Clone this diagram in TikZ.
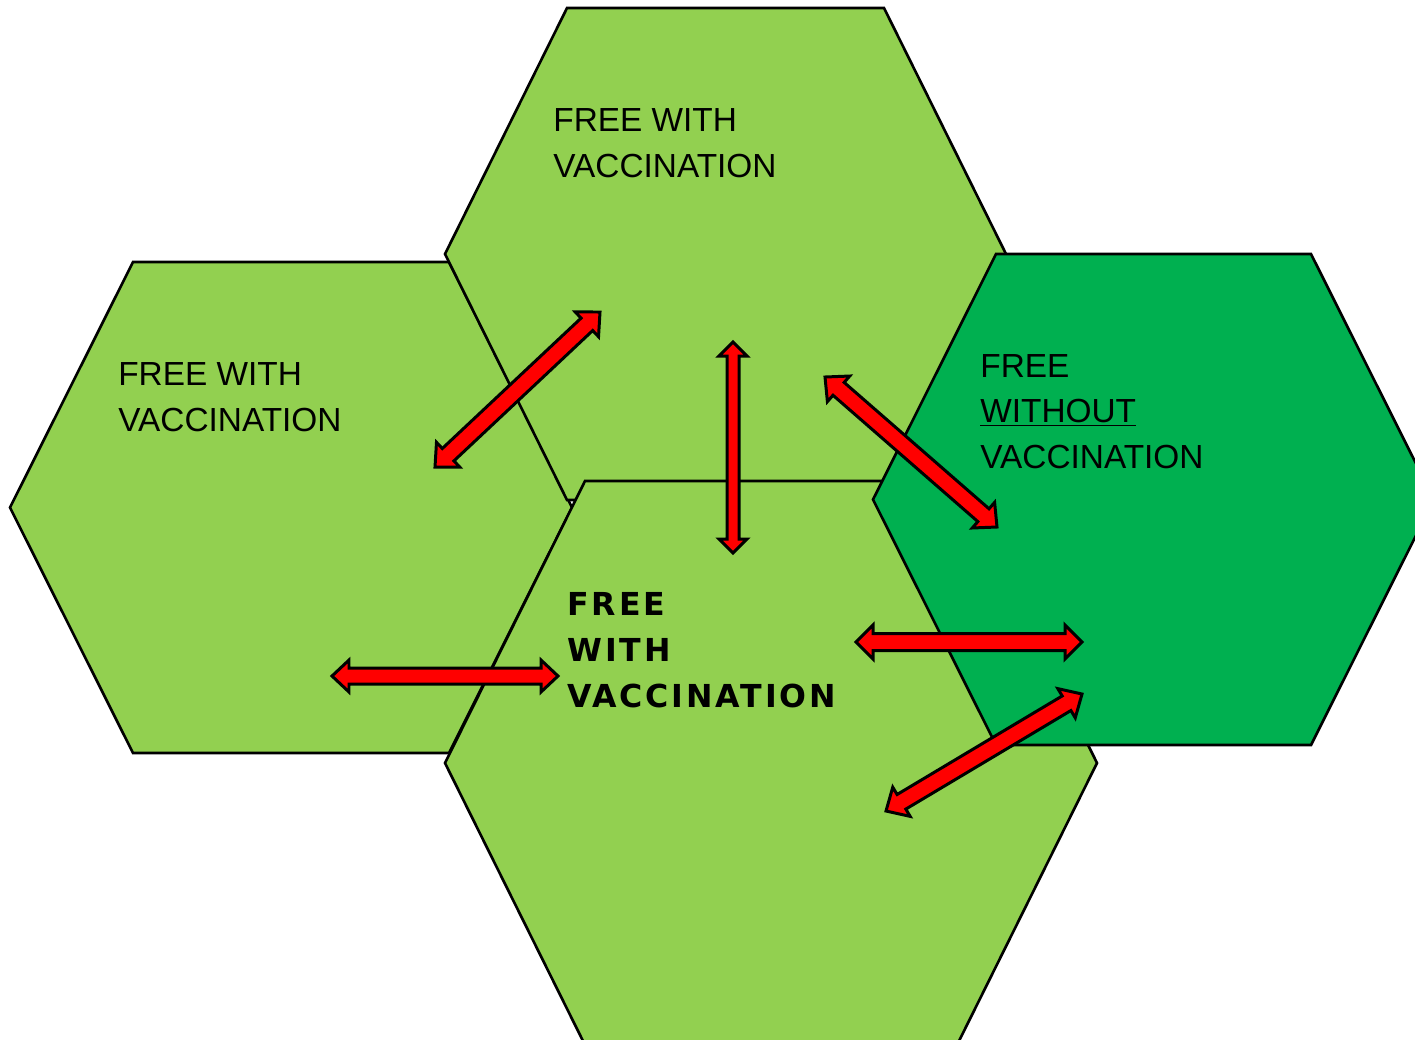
\documentclass[tikz,border=0pt]{standalone}
\usepackage{fontspec}
\setmainfont{Liberation Sans}
\newfontfamily\widebold[LetterSpace=9]{DejaVu Sans}
\usepackage{tikz}
\usetikzlibrary{calc}
\definecolor{leafgreen}{RGB}{146,208,80}
\definecolor{deepgreen}{RGB}{0,176,80}
\definecolor{alarmred}{RGB}{255,0,0}

% double-headed block arrow between two named tips
% #1,#2 tips; #3 head length; #4 head half width; #5 shaft half width
\newcommand{\dblarrow}[5]{%
  \draw[blockarrow] (#1)
    -- ($(#1)!#3!(#2)!#4!90:(#2)$)
    -- ($(#1)!#3!(#2)!#5!90:(#2)$)
    -- ($(#2)!#3!(#1)!#5!-90:(#1)$)
    -- ($(#2)!#3!(#1)!#4!-90:(#1)$)
    -- (#2)
    -- ($(#2)!#3!(#1)!#4!90:(#1)$)
    -- ($(#2)!#3!(#1)!#5!90:(#1)$)
    -- ($(#1)!#3!(#2)!#5!-90:(#2)$)
    -- ($(#1)!#3!(#2)!#4!-90:(#2)$)
    -- cycle;
}

\begin{document}
\begin{tikzpicture}[x=0.02cm, y=-0.02cm,
  hexbox/.style={draw=black, line width=1.5pt, fill=leafgreen, line join=miter},
  hexdark/.style={hexbox, fill=deepgreen},
  blockarrow/.style={draw=black, line width=1.7pt, fill=alarmred, line join=miter},
  hextext/.style={anchor=base west, align=left, inner sep=0pt, font=\fontsize{19}{25.8}\selectfont},
  hexbold/.style={hextext, font=\widebold\bfseries\fontsize{18}{26.1}\selectfont}
]
  \clip (0,0) rectangle (1415,1039);

  % hexagons, back to front
  \draw[hexbox] (133,262) -- (449,262) -- (572,507.5) -- (449,753) -- (133,753) -- (10,507.5) -- cycle;
  \draw[hexbox] (567,8) -- (884,8) -- (1006,254) -- (884,500) -- (567,500) -- (445,254) -- cycle;
  \draw[hexbox] (585,481) -- (957,481) -- (1097,763) -- (957,1045) -- (585,1045) -- (445,763) -- cycle;
  \draw[hexdark] (996,254) -- (1311,254) -- (1434,499.5) -- (1311,745) -- (996,745) -- (873,499.5) -- cycle;

  % labels (anchored at the baseline of their last line)
  \node[hextext] (topLabel) at (553,177.3) {FREE WITH\\VACCINATION};
  \node[hextext] (leftLabel) at (118,431) {FREE WITH\\VACCINATION};
  \node[hextext] (rightLabel) at (980,468) {FREE\\\underline{WITHOUT}\\VACCINATION};
  \node[hexbold] (centreLabel) at (567,707) {FREE\\WITH\\VACCINATION};

  % arrow tips
  \coordinate (leftTop1) at (435,467);
  \coordinate (leftTop2) at (600,312);
  \coordinate (vert1) at (733,342);
  \coordinate (vert2) at (733,553);
  \coordinate (topRight1) at (825,377);
  \coordinate (topRight2) at (997,527);
  \coordinate (leftBot1) at (332,676);
  \coordinate (leftBot2) at (558,676);
  \coordinate (midRight1) at (856,642);
  \coordinate (midRight2) at (1082,642);
  \coordinate (lowRight1) at (886,811);
  \coordinate (lowRight2) at (1082,694);

  % arrows
  \dblarrow{leftTop1}{leftTop2}{0.36cm}{0.34cm}{0.17cm}
  \dblarrow{vert1}{vert2}{0.28cm}{0.28cm}{0.12cm}
  \dblarrow{topRight1}{topRight2}{0.36cm}{0.34cm}{0.17cm}
  \dblarrow{leftBot1}{leftBot2}{0.34cm}{0.32cm}{0.16cm}
  \dblarrow{midRight1}{midRight2}{0.34cm}{0.34cm}{0.17cm}
  \dblarrow{lowRight1}{lowRight2}{0.36cm}{0.34cm}{0.17cm}
\end{tikzpicture}
\end{document}
